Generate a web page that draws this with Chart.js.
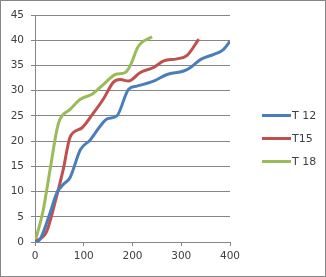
<!DOCTYPE html>
<html>
<head>
<meta charset="utf-8">
<script src="https://cdn.jsdelivr.net/npm/chart.js@4/dist/chart.umd.min.js"></script>
<style>
  html, body { margin: 0; padding: 0; background: #fff; }
  #wrap { width: 326px; height: 277px; }
</style>
</head>
<body>
<div id="wrap"><canvas id="chart" width="326" height="277"></canvas></div>
<script>
// values
const seriesNames = ['T 12', 'T15', 'T 18'];
const seriesColors = ['#4a7ebb', '#c0504d', '#9bbb59'];

const t12X = [0, 10, 31, 45, 58, 72, 93, 113, 134, 148, 168, 192, 209, 243, 271, 305, 319, 340, 367, 387, 400];
const t12Y = [0, 0.5, 5.8, 9.8, 11.4, 12.8, 18.3, 20.2, 23, 24.4, 25, 30.3, 30.9, 31.9, 33.2, 33.9, 34.6, 36.2, 37.2, 38.2, 39.8];

const t15X = [0, 24, 41, 58, 72, 96, 120, 140, 161, 175, 192, 216, 243, 264, 291, 312, 336];
const t15Y = [0, 2.1, 7.8, 14.4, 20.8, 22.6, 25.6, 28.3, 31.7, 32.2, 31.9, 33.6, 34.6, 35.9, 36.3, 37, 40.2];

const t18X = [0, 17, 31, 45, 51, 72, 93, 117, 140, 165, 185, 195, 212, 240];
const t18Y = [0, 6.4, 14.4, 22.3, 24.3, 26.3, 28.3, 29.3, 31.2, 33.2, 33.6, 34.9, 38.8, 40.7];

const xTicks = [0, 100, 200, 300, 400];
const yTicks = [0, 5, 10, 15, 20, 25, 30, 35, 40, 45];

function pairs(xs, ys) {
  return xs.map((x, i) => ({ x: x, y: ys[i] }));
}

const allX = [t12X, t15X, t18X];
const allY = [t12Y, t15Y, t18Y];

const datasets = seriesNames.map((name, i) => ({
  label: name,
  data: pairs(allX[i], allY[i]),
  borderColor: seriesColors[i],
  backgroundColor: seriesColors[i],
  borderWidth: 3,
  pointRadius: 0,
  fill: false,
  cubicInterpolationMode: 'monotone'
}));

// white background + thin frame
const frame = {
  id: 'frame',
  beforeDraw(chart) {
    const c = chart.ctx;
    c.save();
    c.fillStyle = '#fff';
    c.fillRect(0, 0, chart.width, chart.height);
    c.restore();
  },
  afterDraw(chart) {
    const c = chart.ctx;
    c.save();
    c.strokeStyle = '#868686';
    c.lineWidth = 1;
    c.strokeRect(0.5, 0.5, chart.width - 1, chart.height - 1);
    c.restore();
  }
};

// legend like the excel one: line sample then name
const sideLegend = {
  id: 'sideLegend',
  afterDraw(chart) {
    const c = chart.ctx;
    const rows = [115.5, 138.5, 161.5];
    c.save();
    c.font = '11px "DejaVu Sans"';
    c.textBaseline = 'middle';
    c.fillStyle = '#404040';
    seriesNames.forEach((name, i) => {
      c.strokeStyle = seriesColors[i];
      c.lineWidth = 3;
      c.beginPath();
      c.moveTo(262, rows[i]);
      c.lineTo(291, rows[i]);
      c.stroke();
      c.fillText(name, 292, rows[i] + 0.5);
    });
    c.restore();
  }
};

new Chart(document.getElementById('chart'), {
  type: 'line',
  data: { datasets: datasets },
  plugins: [frame, sideLegend],
  options: {
    responsive: false,
    animation: false,
    devicePixelRatio: 1,
    layout: { padding: { left: 0, top: 15, right: 96, bottom: 0 } },
    plugins: {
      legend: { display: false },
      tooltip: { enabled: false }
    },
    scales: {
      x: {
        type: 'linear',
        min: 0,
        max: 400,
        afterBuildTicks: (s) => { s.ticks = xTicks.map(v => ({ value: v })); },
        afterFit: (s) => { s.height = 35; },
        grid: { drawOnChartArea: false, drawTicks: true, tickLength: 4, tickColor: '#868686' },
        border: { color: '#868686', width: 1 },
        ticks: { color: '#404040', padding: 4, maxRotation: 0, font: { family: 'DejaVu Sans', size: 10.5 } }
      },
      y: {
        min: 0,
        max: 45,
        afterBuildTicks: (s) => { s.ticks = yTicks.map(v => ({ value: v })); },
        afterFit: (s) => { s.width = 35; },
        grid: { color: '#868686', lineWidth: 1, tickLength: 4, tickColor: '#868686' },
        border: { color: '#868686', width: 1 },
        ticks: { color: '#404040', padding: 7, font: { family: 'DejaVu Sans', size: 10.5 } }
      }
    }
  }
});
</script>
</body>
</html>
